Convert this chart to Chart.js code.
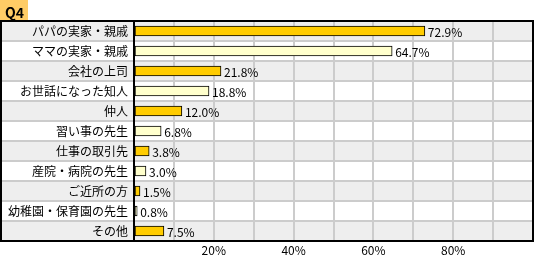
<!DOCTYPE html>
<html>
<head>
<meta charset="utf-8">
<script src="https://cdn.jsdelivr.net/npm/chart.js@4/dist/chart.umd.min.js"></script>
<style>
  html, body { margin: 0; padding: 0; background: #fff; }
  #wrap { width: 535px; height: 256px; }
</style>
</head>
<body>
<div id="wrap"><canvas id="chart"></canvas></div>
<script>
var labels = ['パパの実家・親戚', 'ママの実家・親戚', '会社の上司', 'お世話になった知人', '仲人',
              '習い事の先生', '仕事の取引先', '産院・病院の先生', 'ご近所の方', '幼稚園・保育園の先生', 'その他'];
var values = [72.9, 64.7, 21.8, 18.8, 12.0, 6.8, 3.8, 3.0, 1.5, 0.8, 7.5];
var tickLabels = [20, 40, 60, 80];
var barColors = ['#FFCC00', '#FFFFCC'];
var jp = '"Noto Sans CJK JP", sans-serif';

/* table look: row stripes, row lines, outer frame, Q4 tab, value labels */
var tablePlugin = {
    id: 'table',
    beforeDraw: function (chart) {
        var c = chart.ctx, area = chart.chartArea;
        var h = (area.bottom - area.top) / labels.length;
        c.save();
        for (var i = 0; i < labels.length; i++) {
            var top = area.top + i * h;
            c.fillStyle = i % 2 === 0 ? '#EEEEEE' : '#FFFFFF';
            c.fillRect(0, top, area.right, h);
        }
        c.strokeStyle = '#CCCCCC';
        c.lineWidth = 2;
        for (var j = 1; j < labels.length; j++) {
            var ly = Math.round(area.top + j * h);
            c.beginPath();
            c.moveTo(0, ly);
            c.lineTo(area.right, ly);
            c.stroke();
        }
        c.restore();
    },
    afterDatasetsDraw: function (chart) {
        var c = chart.ctx;
        c.save();
        c.font = '12px ' + jp;
        c.fillStyle = '#000';
        c.textBaseline = 'middle';
        chart.getDatasetMeta(0).data.forEach(function (bar, i) {
            c.fillText(values[i].toFixed(1) + '%', bar.x + 3, bar.y + 1);
        });
        c.restore();
    },
    afterDraw: function (chart) {
        var c = chart.ctx, area = chart.chartArea;
        c.save();
        c.strokeStyle = '#000';
        c.lineWidth = 2;
        c.strokeRect(1, area.top, area.right - 1, area.bottom - area.top);
        c.beginPath();
        c.moveTo(area.left, area.top);
        c.lineTo(area.left, area.bottom);
        c.stroke();
        c.fillStyle = '#FFCC66';
        c.fillRect(0, 0, 28, area.top - 1);
        c.fillStyle = '#000';
        c.font = 'bold 14px ' + jp;
        c.textBaseline = 'middle';
        c.fillText('Q4', 5, 13);
        c.restore();
    }
};

new Chart(document.getElementById('chart'), {
    type: 'bar',
    data: {
        labels: labels,
        datasets: [{
            data: values,
            backgroundColor: labels.map(function (l, i) { return barColors[i % 2]; }),
            borderColor: '#000',
            borderWidth: 1,
            borderSkipped: false,
            barThickness: 10
        }]
    },
    options: {
        indexAxis: 'y',
        responsive: true,
        maintainAspectRatio: false,
        animation: false,
        layout: { padding: { top: 21, right: 1, left: 0, bottom: 0 } },
        plugins: {
            legend: { display: false },
            tooltip: { enabled: false }
        },
        scales: {
            x: {
                min: 0,
                max: 100,
                ticks: {
                    stepSize: 10,
                    autoSkip: false,
                    maxRotation: 0,
                    padding: 2,
                    color: '#000',
                    font: { size: 12, family: jp },
                    callback: function (v) { return tickLabels.indexOf(v) >= 0 ? v + '%' : ''; }
                },
                grid: { color: '#CCCCCC', lineWidth: 2, drawTicks: false },
                border: { display: false },
                afterFit: function (s) { s.height = 15; }
            },
            y: {
                ticks: {
                    padding: 6,
                    color: '#000',
                    font: { size: 12, family: jp }
                },
                grid: { display: false, drawTicks: false },
                border: { display: false },
                afterFit: function (s) { s.width = 134; }
            }
        }
    },
    plugins: [tablePlugin]
});
</script>
</body>
</html>
